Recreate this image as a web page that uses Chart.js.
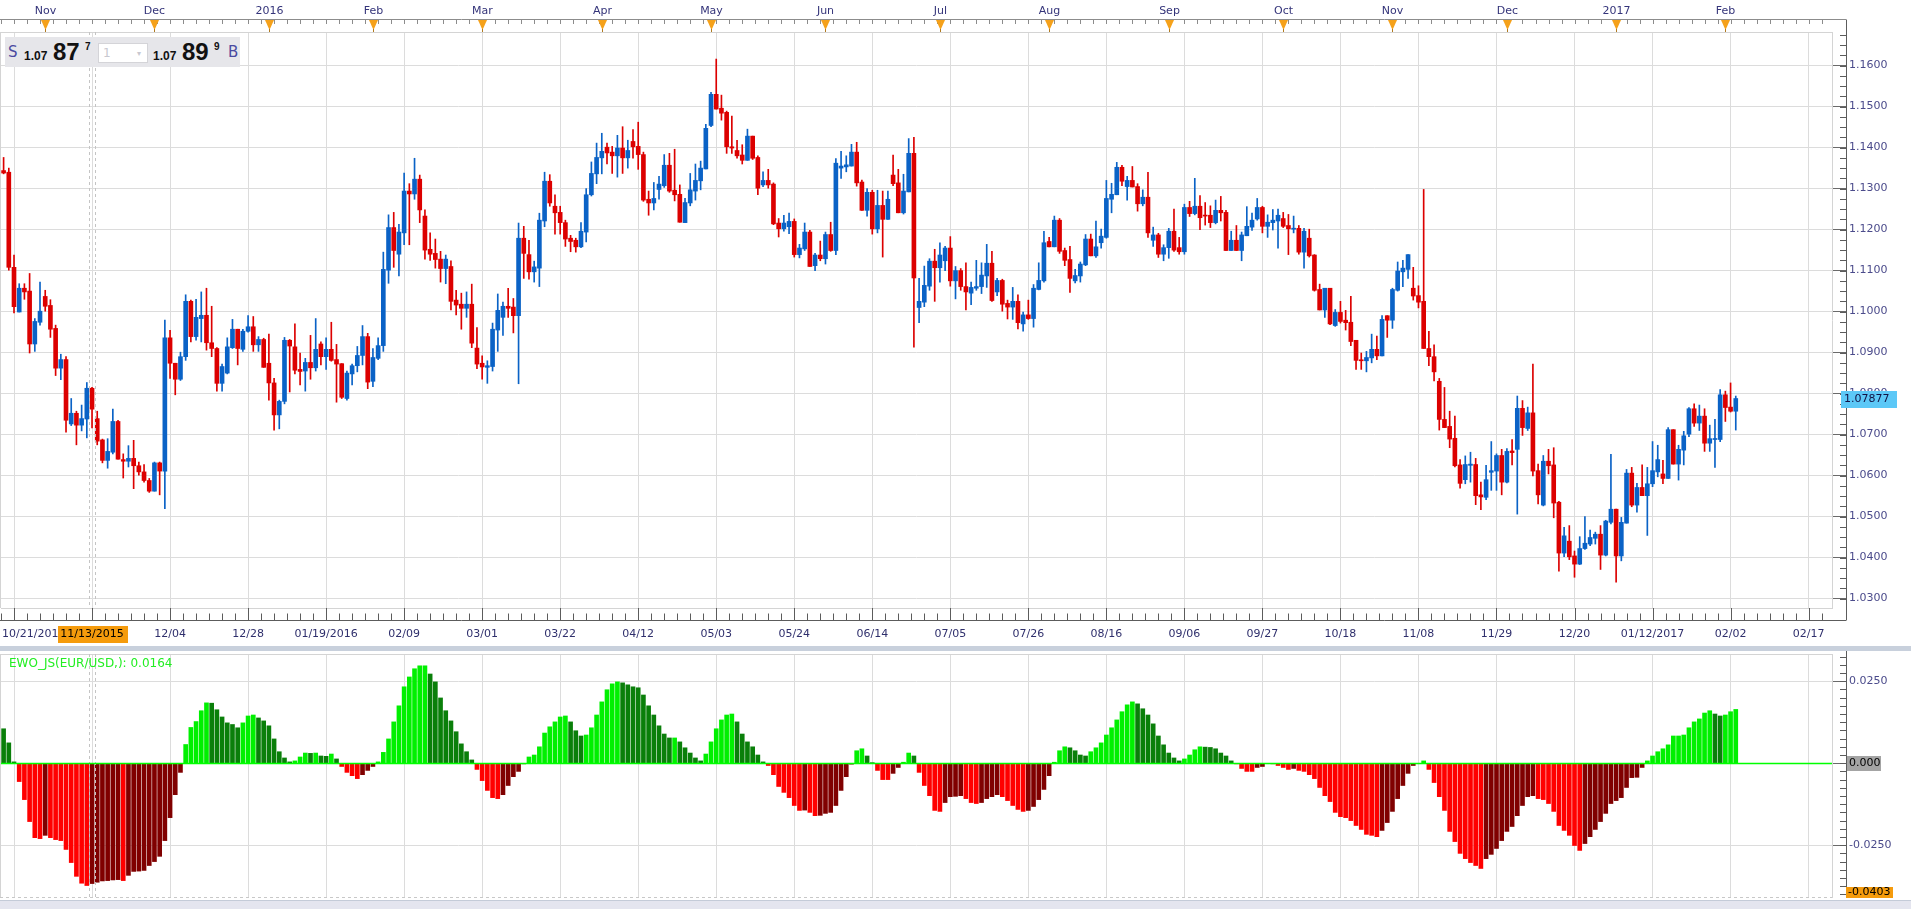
<!DOCTYPE html>
<html><head><meta charset="utf-8">
<script src="https://cdn.jsdelivr.net/npm/chart.js@4.4.0/dist/chart.umd.min.js"></script>
<style>
html,body{margin:0;padding:0;background:#fff;width:1911px;height:909px;overflow:hidden;font-family:"DejaVu Sans",sans-serif;}
#c1{position:absolute;left:0;top:0;}
#c2{position:absolute;left:0;top:651px;}
#sep{position:absolute;left:0;top:646px;width:1911px;height:5px;background:#c8d0dc;}
#bot{position:absolute;left:0;top:900px;width:1911px;height:9px;background:#e4e5ef;border-top:1px solid #c4cbd8;}
#sb{position:absolute;left:5px;top:37px;width:235px;height:30px;background:#e6e6ea;}
#sb span{position:absolute;line-height:1;white-space:nowrap;}
.lbl{font-family:"DejaVu Sans",sans-serif;font-size:15px;color:#4a4aa0;top:8px;}
.sm{font-family:"Liberation Sans",sans-serif;font-weight:bold;font-size:12px;color:#111;top:13px;}
.big{font-family:"Liberation Sans",sans-serif;font-weight:bold;font-size:24px;color:#111;top:3px;}
.sup{font-family:"Liberation Sans",sans-serif;font-weight:bold;font-size:10px;color:#111;top:4.5px;}
#inp{position:absolute;left:93px;top:6px;width:48px;height:18px;background:#fff;border:1px solid #d4d4d8;}
#inp span{font-family:"DejaVu Sans",sans-serif;font-size:12px;color:#c8c8d0;top:3px;}
</style></head><body>
<canvas id="c1" width="1911" height="646" style="width:1911px;height:646px"></canvas>
<div id="sep"></div>
<canvas id="c2" width="1911" height="258" style="width:1911px;height:258px"></canvas>
<div id="bot"></div>
<div id="sb">
  <span class="lbl" style="left:3px">S</span>
  <span class="sm" style="left:19px">1.07</span>
  <span class="big" style="left:48px">87</span>
  <span class="sup" style="left:80px">7</span>
  <div id="inp"><span style="left:4px">1</span><span style="left:38px;font-size:8px;top:6px">&#9662;</span></div>
  <span class="sm" style="left:148px">1.07</span>
  <span class="big" style="left:177px">89</span>
  <span class="sup" style="left:209px">9</span>
  <span class="lbl" style="left:223px">B</span>
</div>
<script>
// ---------------- DATA ----------------
const opens = [
1.1344,1.1340,1.1108,1.0999,1.1057,1.1050,1.0921,1.0974,1.1037,1.1015,
1.0959,1.0862,1.0883,1.0726,1.0752,1.0723,1.0738,1.0813,1.0739,1.0687,
1.0637,1.0657,1.0732,1.0639,1.0635,1.0642,1.0624,1.0609,1.0588,1.0562,
1.0631,1.0611,1.0936,1.0874,1.0835,1.0890,1.1025,1.0939,1.0983,1.0991,
1.0924,1.0910,1.0825,1.0850,1.0912,1.0957,1.0908,1.0952,1.0963,1.0919,
1.0932,1.0874,1.0826,1.0748,1.0781,1.0930,1.0914,1.0859,1.0855,1.0876,
1.0863,1.0921,1.0890,1.0908,1.0883,1.0873,1.0788,1.0848,1.0868,1.0893,
1.0939,1.0830,1.0886,1.0917,1.1101,1.1205,1.1140,1.1192,1.1294,1.1287,
1.1323,1.1233,1.1152,1.1142,1.1128,1.1105,1.1110,1.1028,1.1018,1.1008,
1.1018,1.0911,1.0874,1.0864,1.0866,1.0955,1.0986,1.1013,1.1011,1.0990,
1.1179,1.1139,1.1097,1.1106,1.1221,1.1318,1.1257,1.1242,1.1217,1.1179,
1.1174,1.1158,1.1194,1.1285,1.1336,1.1375,1.1401,1.1389,1.1380,1.1399,
1.1375,1.1415,1.1403,1.1383,1.1274,1.1265,1.1298,1.1307,1.1357,1.1296,
1.1286,1.1217,1.1265,1.1294,1.1319,1.1348,1.1454,1.1530,1.1496,1.1486,
1.1402,1.1393,1.1382,1.1369,1.1428,1.1376,1.1309,1.1320,1.1311,1.1216,
1.1202,1.1207,1.1220,1.1139,1.1153,1.1194,1.1112,1.1138,1.1129,1.1188,
1.1149,1.1350,1.1353,1.1355,1.1389,1.1316,1.1247,1.1291,1.1202,1.1259,
1.1225,1.1333,1.1314,1.1241,1.1292,1.1386,1.1010,1.1023,1.1062,1.1123,
1.1107,1.1124,1.1155,1.1075,1.1100,1.1061,1.1045,1.1057,1.1061,1.1087,
1.1118,1.1048,1.1076,1.1020,1.1011,1.1025,1.0970,1.0992,1.0983,1.1054,
1.1075,1.1171,1.1158,1.1223,1.1149,1.1127,1.1075,1.1087,1.1114,1.1177,
1.1136,1.1168,1.1181,1.1274,1.1285,1.1352,1.1305,1.1320,1.1305,1.1263,
1.1279,1.1174,1.1187,1.1140,1.1156,1.1196,1.1156,1.1146,1.1254,1.1239,
1.1257,1.1235,1.1235,1.1217,1.1247,1.1242,1.1149,1.1174,1.1149,1.1185,
1.1206,1.1226,1.1254,1.1208,1.1217,1.1221,1.1227,1.1210,1.1201,1.1203,
1.1145,1.1179,1.1138,1.1054,1.1004,1.1057,1.0966,1.0998,1.0979,1.0974,
1.0930,1.0882,1.0880,1.0887,1.0908,1.0892,1.0990,1.0979,1.1052,1.1097,
1.1103,1.1057,1.1039,1.1025,1.0910,1.0890,1.0830,1.0737,1.0720,1.0691,
1.0626,1.0590,1.0625,1.0627,1.0553,1.0547,1.0608,1.0611,1.0649,1.0584,
1.0660,1.0664,1.0764,1.0715,1.0753,1.0612,1.0528,1.0635,1.0626,1.0535,
1.0411,1.0440,1.0404,1.0384,1.0422,1.0433,1.0447,1.0457,1.0406,1.0486,
1.0518,1.0404,1.0484,1.0606,1.0528,1.0571,1.0551,1.0580,1.0609,1.0604,
1.0593,1.0712,1.0628,1.0662,1.0701,1.0763,1.0728,1.0745,1.0679,1.0688,
1.0688,1.0797,1.0767,1.0757];
const highs = [
1.1376,1.1350,1.1138,1.1068,1.1068,1.1093,1.0983,1.1072,1.1052,1.1029,
1.0967,1.0896,1.0890,1.0788,1.0757,1.0772,1.0827,1.0815,1.0757,1.0689,
1.0690,1.0762,1.0735,1.0653,1.0673,1.0686,1.0633,1.0627,1.0593,1.0633,
1.0633,1.0979,1.0954,1.0874,1.0901,1.1041,1.1028,1.1030,1.1048,1.1057,
1.1013,1.0912,1.0872,1.0936,1.0981,1.0957,1.0957,1.0990,1.0988,1.0939,
1.0935,1.0945,1.0837,1.0784,1.0937,1.0932,1.0970,1.0899,1.0886,1.0942,
1.0983,1.0926,1.0936,1.0974,1.0920,1.0873,1.0855,1.0872,1.0915,1.0966,
1.0947,1.0910,1.0936,1.1145,1.1236,1.1242,1.1213,1.1338,1.1312,1.1374,
1.1333,1.1248,1.1192,1.1177,1.1147,1.1138,1.1124,1.1052,1.1045,1.1048,
1.1067,1.0961,1.0892,1.0880,1.0972,1.1043,1.1023,1.1057,1.1032,1.1216,
1.1208,1.1174,1.1123,1.1240,1.1340,1.1334,1.1285,1.1257,1.1223,1.1186,
1.1179,1.1217,1.1300,1.1365,1.1411,1.1435,1.1411,1.1403,1.1430,1.1451,
1.1418,1.1444,1.1462,1.1389,1.1294,1.1315,1.1330,1.1383,1.1386,1.1396,
1.1309,1.1276,1.1337,1.1360,1.1367,1.1457,1.1535,1.1616,1.1528,1.1489,
1.1477,1.1418,1.1407,1.1445,1.1428,1.1380,1.1341,1.1347,1.1314,1.1227,
1.1235,1.1240,1.1226,1.1164,1.1216,1.1198,1.1142,1.1172,1.1194,1.1218,
1.1373,1.1391,1.1380,1.1408,1.1413,1.1321,1.1300,1.1296,1.1296,1.1294,
1.1294,1.1382,1.1347,1.1335,1.1422,1.1425,1.1081,1.1111,1.1129,1.1152,
1.1168,1.1159,1.1183,1.1110,1.1105,1.1119,1.1072,1.1125,1.1119,1.1164,
1.1147,1.1081,1.1079,1.1028,1.1059,1.1041,1.0999,1.1028,1.1066,1.1119,
1.1196,1.1181,1.1233,1.1227,1.1155,1.1159,1.1103,1.1121,1.1188,1.1189,
1.1221,1.1201,1.1320,1.1313,1.1364,1.1357,1.1330,1.1354,1.1312,1.1297,
1.1340,1.1206,1.1191,1.1163,1.1203,1.1250,1.1181,1.1262,1.1269,1.1325,
1.1283,1.1266,1.1258,1.1272,1.1281,1.1247,1.1196,1.1210,1.1194,1.1256,
1.1240,1.1276,1.1257,1.1236,1.1249,1.1250,1.1242,1.1237,1.1233,1.1210,
1.1203,1.1201,1.1139,1.1067,1.1057,1.1057,1.1005,1.1025,1.1003,1.1037,
1.0930,1.0899,1.0903,1.0945,1.0940,1.0990,1.0990,1.1057,1.1121,1.1125,
1.1139,1.1108,1.1063,1.1298,1.0952,1.0919,1.0837,1.0815,1.0757,1.0745,
1.0639,1.0648,1.0657,1.0642,1.0584,1.0625,1.0683,1.0653,1.0664,1.0666,
1.0688,1.0794,1.0783,1.0767,1.0872,1.0628,1.0649,1.0664,1.0668,1.0537,
1.0474,1.0478,1.0416,1.0451,1.0500,1.0467,1.0462,1.0478,1.0491,1.0652,
1.0518,1.0498,1.0615,1.0620,1.0581,1.0626,1.0620,1.0683,1.0674,1.0637,
1.0717,1.0712,1.0674,1.0708,1.0766,1.0775,1.0772,1.0763,1.0723,1.0737,
1.0810,1.0806,1.0826,1.0794];
const lows = [
1.1336,1.1101,1.0997,1.0999,1.1030,1.0899,1.0903,1.0967,1.1001,1.0937,
1.0844,1.0834,1.0706,1.0722,1.0675,1.0709,1.0692,1.0716,1.0675,1.0631,
1.0618,1.0653,1.0640,1.0594,1.0621,1.0568,1.0601,1.0584,1.0559,1.0562,
1.0553,1.0519,1.0837,1.0797,1.0832,1.0881,1.0926,1.0930,1.0926,1.0906,
1.0890,1.0806,1.0806,1.0848,1.0910,1.0870,1.0903,1.0950,1.0903,1.0903,
1.0864,1.0784,1.0711,1.0714,1.0775,1.0804,1.0848,1.0821,1.0806,1.0835,
1.0855,1.0870,1.0859,1.0879,1.0779,1.0788,1.0784,1.0821,1.0853,1.0870,
1.0812,1.0817,1.0883,1.0903,1.1069,1.1108,1.1087,1.1163,1.1163,1.1274,
1.1217,1.1128,1.1125,1.1106,1.1072,1.1068,1.1004,1.0992,1.0957,1.0986,
1.0912,1.0861,1.0835,1.0825,1.0855,1.0903,1.0942,1.0986,1.0948,1.0824,
1.1081,1.1079,1.1072,1.1061,1.1207,1.1257,1.1189,1.1189,1.1159,1.1146,
1.1145,1.1156,1.1170,1.1282,1.1312,1.1336,1.1360,1.1337,1.1328,1.1337,
1.1350,1.1374,1.1347,1.1269,1.1235,1.1248,1.1274,1.1303,1.1291,1.1270,
1.1218,1.1217,1.1258,1.1272,1.1297,1.1348,1.1451,1.1494,1.1467,1.1386,
1.1386,1.1374,1.1360,1.1369,1.1371,1.1285,1.1305,1.1301,1.1212,1.1182,
1.1196,1.1190,1.1133,1.1131,1.1149,1.1110,1.1100,1.1124,1.1116,1.1147,
1.1139,1.1325,1.1341,1.1355,1.1306,1.1247,1.1233,1.1189,1.1192,1.1133,
1.1225,1.1307,1.1241,1.1238,1.1292,1.0913,1.0973,1.1012,1.1052,1.1025,
1.1072,1.1100,1.1062,1.1031,1.1052,1.1004,1.1017,1.1052,1.1044,1.1059,
1.1025,1.1039,1.1001,1.0982,1.0981,1.0958,1.0952,1.0981,1.0962,1.1053,
1.1072,1.1158,1.1158,1.1142,1.1112,1.1047,1.1070,1.1072,1.1112,1.1136,
1.1132,1.1155,1.1179,1.1241,1.1285,1.1307,1.1272,1.1304,1.1245,1.1258,
1.1181,1.1159,1.1132,1.1124,1.1130,1.1147,1.1140,1.1140,1.1232,1.1236,
1.1200,1.1211,1.1205,1.1214,1.1221,1.1149,1.1149,1.1149,1.1124,1.1185,
1.1198,1.1223,1.1192,1.1181,1.1199,1.1155,1.1205,1.1139,1.1192,1.1140,
1.1106,1.1133,1.1050,1.1004,1.0986,1.0968,1.0964,1.0972,1.0955,1.0917,
1.0859,1.0859,1.0853,1.0875,1.0883,1.0892,1.0937,1.0959,1.1050,1.1061,
1.1081,1.1028,1.1009,1.0910,1.0868,1.0831,1.0711,1.0717,1.0668,1.0621,
1.0569,1.0580,1.0584,1.0529,1.0517,1.0541,1.0564,1.0564,1.0553,1.0582,
1.0626,1.0506,1.0698,1.0710,1.0599,1.0531,1.0526,1.0604,1.0497,1.0367,
1.0402,1.0395,1.0352,1.0383,1.0420,1.0429,1.0433,1.0371,1.0404,1.0482,
1.0340,1.0392,1.0484,1.0524,1.0511,1.0551,1.0454,1.0573,1.0597,1.0580,
1.0593,1.0628,1.0589,1.0626,1.0695,1.0720,1.0710,1.0659,1.0659,1.0620,
1.0683,1.0732,1.0755,1.0711];
const closes = [
1.1338,1.1108,1.1012,1.1057,1.1048,1.0921,1.0976,1.1001,1.1013,1.0957,
1.0862,1.0883,1.0735,1.0752,1.0723,1.0739,1.0813,1.0762,1.0684,1.0637,
1.0659,1.0732,1.0640,1.0635,1.0642,1.0624,1.0609,1.0588,1.0562,1.0631,
1.0611,1.0936,1.0874,1.0835,1.0890,1.1025,1.0939,1.0986,1.0991,1.0924,
1.0910,1.0825,1.0866,1.0914,1.0957,1.0910,1.0952,1.0963,1.0919,1.0932,
1.0864,1.0826,1.0748,1.0781,1.0930,1.0916,1.0857,1.0854,1.0876,1.0863,
1.0908,1.0890,1.0908,1.0881,1.0872,1.0791,1.0850,1.0868,1.0893,1.0939,
1.0828,1.0888,1.0917,1.1103,1.1205,1.1149,1.1194,1.1294,1.1287,1.1323,
1.1248,1.1150,1.1140,1.1127,1.1105,1.1128,1.1025,1.1016,1.1008,1.1018,
1.0923,1.0872,1.0865,1.0868,1.0957,1.1003,1.1013,1.1008,1.0990,1.1179,
1.1142,1.1097,1.1109,1.1223,1.1318,1.1265,1.1241,1.1217,1.1177,1.1171,
1.1158,1.1196,1.1285,1.1337,1.1376,1.1391,1.1387,1.1380,1.1399,1.1375,
1.1393,1.1402,1.1383,1.1272,1.1265,1.1276,1.1311,1.1357,1.1294,1.1285,
1.1218,1.1266,1.1297,1.1320,1.1350,1.1447,1.1530,1.1494,1.1484,1.1402,
1.1399,1.1380,1.1369,1.1428,1.1374,1.1301,1.1320,1.1309,1.1214,1.1202,
1.1216,1.1220,1.1139,1.1155,1.1194,1.1110,1.1138,1.1129,1.1188,1.1149,
1.1362,1.1355,1.1358,1.1389,1.1314,1.1247,1.1291,1.1202,1.1259,1.1225,
1.1274,1.1312,1.1241,1.1294,1.1386,1.1082,1.1025,1.1064,1.1123,1.1107,
1.1138,1.1155,1.1075,1.1100,1.1061,1.1048,1.1059,1.1061,1.1089,1.1118,
1.1027,1.1076,1.1018,1.1011,1.1025,1.0973,1.0992,1.0983,1.1057,1.1076,
1.1168,1.1158,1.1223,1.1147,1.1125,1.1081,1.1088,1.1116,1.1177,1.1136,
1.1158,1.1184,1.1276,1.1286,1.1352,1.1318,1.1320,1.1304,1.1263,1.1279,
1.1192,1.1187,1.1140,1.1156,1.1196,1.1150,1.1146,1.1254,1.1239,1.1257,
1.1229,1.1233,1.1217,1.1247,1.1241,1.1149,1.1174,1.1149,1.1187,1.1208,
1.1223,1.1254,1.1208,1.1218,1.1223,1.1235,1.1208,1.1202,1.1203,1.1145,
1.1196,1.1136,1.1052,1.1004,1.1057,1.0970,1.0998,1.0976,1.0973,1.0927,
1.0881,1.0880,1.0888,1.0908,1.0892,1.0981,1.0979,1.1054,1.1099,1.1106,
1.1139,1.1038,1.1023,1.0910,1.0890,1.0853,1.0737,1.0717,1.0689,1.0624,
1.0581,1.0627,1.0628,1.0551,1.0548,1.0590,1.0612,1.0649,1.0584,1.0659,
1.0656,1.0764,1.0717,1.0753,1.0611,1.0553,1.0635,1.0624,1.0533,1.0411,
1.0453,1.0402,1.0384,1.0422,1.0435,1.0449,1.0457,1.0406,1.0489,1.0518,
1.0404,1.0486,1.0606,1.0528,1.0571,1.0551,1.0580,1.0612,1.0639,1.0593,
1.0712,1.0628,1.0664,1.0697,1.0763,1.0728,1.0745,1.0679,1.0690,1.0690,
1.0797,1.0766,1.0757,1.0788];
const ewo = [
0.0105,0.0062,0.0004,-0.0056,-0.0111,-0.0178,-0.0227,-0.0230,-0.0220,-0.0227,
-0.0233,-0.0236,-0.0263,-0.0303,-0.0345,-0.0366,-0.0373,-0.0367,-0.0363,-0.0359,
-0.0358,-0.0356,-0.0355,-0.0358,-0.0342,-0.0330,-0.0329,-0.0327,-0.0312,-0.0300,
-0.0284,-0.0236,-0.0166,-0.0096,-0.0028,0.0057,0.0109,0.0127,0.0160,0.0184,
0.0183,0.0163,0.0141,0.0123,0.0118,0.0108,0.0123,0.0144,0.0147,0.0138,
0.0129,0.0114,0.0074,0.0035,0.0016,0.0004,0.0007,0.0019,0.0031,0.0030,
0.0031,0.0022,0.0021,0.0028,0.0013,-0.0010,-0.0028,-0.0038,-0.0047,-0.0035,
-0.0022,-0.0010,0.0004,0.0033,0.0074,0.0126,0.0175,0.0233,0.0263,0.0288,
0.0297,0.0297,0.0272,0.0248,0.0199,0.0160,0.0129,0.0096,0.0059,0.0035,
0.0010,-0.0019,-0.0053,-0.0083,-0.0105,-0.0108,-0.0096,-0.0068,-0.0041,-0.0025,
-0.0002,0.0019,0.0025,0.0050,0.0092,0.0111,0.0126,0.0141,0.0144,0.0126,
0.0099,0.0083,0.0086,0.0108,0.0147,0.0187,0.0224,0.0242,0.0248,0.0245,
0.0239,0.0233,0.0230,0.0208,0.0175,0.0147,0.0114,0.0089,0.0077,0.0077,
0.0065,0.0047,0.0031,0.0016,0.0007,0.0028,0.0065,0.0105,0.0132,0.0147,
0.0150,0.0126,0.0089,0.0065,0.0050,0.0025,0.0004,-0.0007,-0.0035,-0.0071,
-0.0089,-0.0105,-0.0129,-0.0144,-0.0143,-0.0150,-0.0160,-0.0159,-0.0153,-0.0150,
-0.0129,-0.0083,-0.0041,-0.0003,0.0038,0.0044,0.0022,0.0001,-0.0022,-0.0050,
-0.0050,-0.0031,-0.0013,0.0003,0.0031,0.0022,-0.0028,-0.0068,-0.0099,-0.0144,
-0.0147,-0.0120,-0.0102,-0.0101,-0.0099,-0.0108,-0.0120,-0.0123,-0.0120,-0.0108,
-0.0102,-0.0096,-0.0102,-0.0114,-0.0129,-0.0141,-0.0147,-0.0144,-0.0132,-0.0111,
-0.0080,-0.0038,0.0003,0.0038,0.0050,0.0047,0.0038,0.0025,0.0022,0.0035,
0.0047,0.0062,0.0086,0.0108,0.0132,0.0157,0.0178,0.0187,0.0181,0.0166,
0.0147,0.0120,0.0083,0.0056,0.0031,0.0016,0.0007,0.0013,0.0025,0.0041,
0.0050,0.0049,0.0048,0.0044,0.0031,0.0022,0.0007,-0.0002,-0.0016,-0.0025,
-0.0025,-0.0013,-0.0010,-0.0001,-0.0002,-0.0007,-0.0013,-0.0019,-0.0016,-0.0022,
-0.0025,-0.0035,-0.0047,-0.0074,-0.0099,-0.0117,-0.0150,-0.0163,-0.0166,-0.0175,
-0.0190,-0.0202,-0.0217,-0.0220,-0.0224,-0.0205,-0.0181,-0.0147,-0.0108,-0.0068,
-0.0031,-0.0007,-0.0001,0.0007,-0.0019,-0.0059,-0.0102,-0.0144,-0.0208,-0.0239,
-0.0275,-0.0291,-0.0303,-0.0312,-0.0321,-0.0291,-0.0278,-0.0260,-0.0236,-0.0208,
-0.0193,-0.0160,-0.0129,-0.0102,-0.0099,-0.0108,-0.0111,-0.0123,-0.0147,-0.0190,
-0.0205,-0.0220,-0.0251,-0.0266,-0.0245,-0.0224,-0.0202,-0.0178,-0.0153,-0.0123,
-0.0114,-0.0105,-0.0074,-0.0044,-0.0043,-0.0013,0.0007,0.0022,0.0035,0.0044,
0.0056,0.0083,0.0083,0.0086,0.0108,0.0126,0.0135,0.0153,0.0160,0.0150,
0.0144,0.0147,0.0157,0.0164];

// tick labels
const dateTicks = ['10/21/2015','11/13/2015','12/04','12/28','01/19/2016','02/09','03/01','03/22','04/12','05/03','05/24','06/14','07/05','07/26','08/16','09/06','09/27','10/18','11/08','11/29','12/20','01/12/2017','02/02','02/17'];
const priceTicks = [1.03,1.04,1.05,1.06,1.07,1.08,1.09,1.10,1.11,1.12,1.13,1.14,1.15,1.16];
const ewoTicks = [-0.025,0,0.025];
const monthNames = ['2016','Feb','Mar','Apr','May','Jun','Jul','Aug','Sep','Oct','Nov','Dec'];
const lastPrice = 1.07877;
const ewoAxisMinLabel = '-0.0403';
const ewoName = 'EWO_JS(EUR/USD,): ';

// categories: trading days (weekdays minus closed days)
const startDay = [2015, 9, 21];
const closedDays = ['2015-12-25','2016-01-01','2016-12-26','2017-01-02'];
const slotCount = 352;
const dates = (function(){
  const out = []; const d = new Date(Date.UTC(startDay[0], startDay[1], startDay[2]));
  while (out.length < slotCount) {
    const wd = d.getUTCDay(); const iso = d.toISOString().slice(0,10);
    if (wd !== 0 && wd !== 6 && closedDays.indexOf(iso) < 0) out.push(iso);
    d.setUTCDate(d.getUTCDate() + 1);
  }
  return out;
})();
const TICK_START = 2, TICK_STEP = 15, CROSS_IDX = 17;

// ---------------- STYLE ----------------
const BLUE = '#0a62c6', RED = '#dc0000';
const G_LIGHT = '#00f000', G_DARK = '#0a7f0a', R_LIGHT = '#ff0000', R_DARK = '#800000';
const GRID = '#dcdcdc', DATE_COL = '#2f2f6c', PRICE_COL = '#4b4b8b', AXIS_COL = '#6a6a6a';
const FONT = '11px "DejaVu Sans"';
Chart.defaults.font.family = '"DejaVu Sans", sans-serif';
Chart.defaults.font.size = 11;

const bottomLabel = {};
dateTicks.forEach((t, k) => { if (k > 0) bottomLabel[TICK_START + TICK_STEP * k] = t; });
const isMajor = (i) => i >= TICK_START && (i - TICK_START) % TICK_STEP === 0;
const monthStarts = [];
for (let i = 1; i < opens.length; i++) {
  if (dates[i].slice(5,7) !== dates[i-1].slice(5,7)) {
    const m = parseInt(dates[i].slice(5,7), 10);
    monthStarts.push({ idx: i, text: m === 1 ? dates[i].slice(0,4) : monthNames[m - 1] });
  }
}

const bodies = opens.map((o, i) => [o, closes[i]]);
const wicks = lows.map((l, i) => [l, highs[i]]);
const candleColor = (ctx) => closes[ctx.dataIndex] >= opens[ctx.dataIndex] ? BLUE : RED;
const ewoColor = (ctx) => {
  const i = ctx.dataIndex, v = ewo[i], p = i > 0 ? ewo[i-1] : v + 1;
  if (v >= 0) return v >= p ? G_LIGHT : G_DARK;
  return v <= p ? R_LIGHT : R_DARK;
};
const noPad = (s) => { s.paddingLeft = 0; s.paddingRight = 0; s.paddingTop = 0; s.paddingBottom = 0; };

function line(ctx, x1, y1, x2, y2) { ctx.beginPath(); ctx.moveTo(x1, y1); ctx.lineTo(x2, y2); ctx.stroke(); }
function crosshair(chart) {
  const ctx = chart.ctx, ca = chart.chartArea, x = Math.round(chart.scales.x.getPixelForValue(CROSS_IDX));
  ctx.save(); ctx.strokeStyle = '#c4c4c4'; ctx.lineWidth = 1; ctx.setLineDash([3, 3]);
  line(ctx, x - 2.5, ca.top, x - 2.5, ca.bottom); line(ctx, x + 3.5, ca.top, x + 3.5, ca.bottom);
  ctx.restore();
}

const decor1 = {
  id: 'decor1',
  beforeDraw(chart) {
    const ctx = chart.ctx, xs = chart.scales.x;
    ctx.save();
    ctx.font = FONT; ctx.fillStyle = DATE_COL; ctx.textBaseline = 'middle'; ctx.textAlign = 'left';
    ctx.fillText(dateTicks[0], 2, 634);
    const hx = xs.getPixelForValue(CROSS_IDX);
    ctx.fillStyle = '#f59b0c'; ctx.fillRect(Math.round(hx - 34), 626, 70, 17);
    ctx.restore();
  },
  afterDraw(chart) {
    const ctx = chart.ctx, ca = chart.chartArea, xs = chart.scales.x, ys = chart.scales.y;
    const w = xs.getPixelForValue(1) - xs.getPixelForValue(0);
    ctx.save();
    ctx.lineWidth = 1;
    ctx.strokeStyle = '#d4d4d4';
    line(ctx, 0, ca.top + 0.5, ca.right, ca.top + 0.5);
    line(ctx, ca.left - 0.5, ca.top, ca.left - 0.5, ca.bottom);
    crosshair(chart);
    // top axis
    ctx.strokeStyle = '#8c8c8c';
    line(ctx, 0, 19.5, 1846, 19.5);
    for (let i = TICK_START - TICK_STEP; i < slotCount + TICK_STEP; i += TICK_STEP) {
      for (let k = 0; k < 6; k++) {
        const x = Math.round(xs.getPixelForValue(i) + k * w * TICK_STEP / 6) + 0.5;
        if (x < 0 || x > ca.right) continue;
        line(ctx, x, 19.5, x, 24);
      }
    }
    ctx.font = FONT; ctx.textAlign = 'center'; ctx.textBaseline = 'alphabetic';
    monthStarts.forEach(m => {
      const x = Math.round(xs.getPixelForValue(m.idx)) + 0.5;
      ctx.fillStyle = '#f5a11a';
      ctx.beginPath(); ctx.moveTo(x - 4.5, 20); ctx.lineTo(x + 4.5, 20); ctx.lineTo(x, 30); ctx.closePath(); ctx.fill();
      ctx.strokeStyle = '#b07a20'; line(ctx, x, 29, x, 32);
      ctx.fillStyle = '#34347a'; ctx.fillText(m.text, x, 13.5);
    });
    // bottom axis
    ctx.strokeStyle = '#5c5c5c';
    line(ctx, 0, 620.5, 1846, 620.5);
    for (let i = TICK_START - TICK_STEP; i < slotCount + TICK_STEP; i += TICK_STEP) {
      for (let k = 0; k < 6; k++) {
        const x = Math.round(xs.getPixelForValue(i) + k * w * TICK_STEP / 6) + 0.5;
        if (x < 0 || x > ca.right) continue;
        line(ctx, x, k === 0 ? ca.bottom : 613.5, x, 620.5);
      }
    }
    // right axis line + minor ticks
    line(ctx, 1846.5, 19.5, 1846.5, 620.5);
    for (let v = 1.0275; v < ys.max; v += 0.0025) {
      const y = Math.round(ys.getPixelForValue(v)) + 0.5;
      if (y < ca.top || y > ca.bottom) continue;
      line(ctx, 1840, y, 1846, y);
    }
    // last price marker
    const py = Math.round(ys.getPixelForValue(lastPrice));
    ctx.fillStyle = '#5cc8f7'; ctx.fillRect(1841, py - 8, 56, 17);
    ctx.fillStyle = '#111144'; ctx.textAlign = 'left'; ctx.textBaseline = 'middle'; ctx.font = FONT;
    ctx.fillText(lastPrice.toFixed(5), 1844, py + 0.5);
    ctx.restore();
  }
};

const decor2 = {
  id: 'decor2',
  afterDraw(chart) {
    const ctx = chart.ctx, ca = chart.chartArea, ys = chart.scales.y;
    ctx.save(); ctx.lineWidth = 1;
    ctx.strokeStyle = '#d4d4d4';
    line(ctx, 0, ca.top + 0.5, ca.right, ca.top + 0.5);
    line(ctx, ca.left - 0.5, ca.top, ca.left - 0.5, ca.bottom);
    ctx.save(); ctx.setLineDash([3, 3]); ctx.strokeStyle = '#c8c8c8';
    line(ctx, 0, ca.bottom + 0.5, ca.right, ca.bottom + 0.5); ctx.restore();
    crosshair(chart);
    const y0 = Math.round(ys.getPixelForValue(0)) + 0.5;
    ctx.strokeStyle = '#00ff00'; ctx.lineWidth = 1.5;
    line(ctx, ca.left, y0, ca.right, y0);
    ctx.lineWidth = 1; ctx.strokeStyle = '#5c5c5c';
    line(ctx, 1846.5, 0, 1846.5, ca.bottom);
    for (let v = -0.04; v < ys.max; v += 0.0025) {
      const y = Math.round(ys.getPixelForValue(v)) + 0.5;
      if (y < ca.top || y > ca.bottom) continue;
      line(ctx, 1840, y, 1846, y);
    }
    ctx.font = FONT; ctx.textBaseline = 'middle'; ctx.textAlign = 'left';
    ctx.fillStyle = '#a4a4a4'; ctx.fillRect(1847, y0 - 7.5, 34, 15);
    ctx.fillStyle = '#000'; ctx.fillText((0).toFixed(3), 1849, y0);
    ctx.fillStyle = '#f59b0c'; ctx.fillRect(1846, ca.bottom - 10, 47, 11);
    ctx.fillStyle = '#000'; ctx.fillText(ewoAxisMinLabel, 1848, ca.bottom - 4.5);
    ctx.fillStyle = '#22ee22'; ctx.textBaseline = 'alphabetic'; ctx.font = '12px "DejaVu Sans"';
    ctx.fillText(ewoName + ewo[ewo.length - 1].toFixed(4), 9, 16);
    ctx.restore();
  }
};

const xBase = (h, showLabels) => ({
  type: 'category', offset: true,
  grid: { offset: false, drawTicks: false, color: (c) => isMajor(c.index) ? GRID : 'rgba(0,0,0,0)' },
  border: { color: '#d4d4d4' },
  ticks: {
    display: showLabels, autoSkip: false, maxRotation: 0, minRotation: 0, padding: 20,
    font: { size: 11 }, color: (c) => c.index === CROSS_IDX ? '#000' : DATE_COL,
    callback: (v, i) => bottomLabel[i] || ''
  },
  afterFit: (s) => { s.height = h; noPad(s); }
});

new Chart(document.getElementById('c1'), {
  type: 'bar',
  data: { labels: dates, datasets: [
    { data: bodies, backgroundColor: candleColor, barThickness: 4, minBarLength: 1, grouped: false, borderWidth: 0 },
    { data: wicks, backgroundColor: candleColor, barThickness: 1, minBarLength: 1, grouped: false, borderWidth: 0 }
  ]},
  options: {
    responsive: false, animation: false, events: [],
    layout: { padding: { left: 1, top: 32, right: 0, bottom: 0 } },
    plugins: { legend: { display: false }, tooltip: { enabled: false } },
    scales: {
      x: xBase(38, true),
      y: {
        position: 'right', min: 1.0277, max: 1.1682,
        afterBuildTicks: (s) => { s.ticks = priceTicks.map(v => ({ value: v })); },
        grid: { color: GRID, drawTicks: true, tickLength: 14, tickColor: AXIS_COL },
        border: { color: '#d4d4d4' },
        ticks: { padding: 3, color: PRICE_COL, font: { size: 11 }, callback: (v) => Number(v).toFixed(4) },
        afterFit: (s) => { s.width = 79; noPad(s); }
      }
    }
  },
  plugins: [decor1]
});

const x2 = xBase(12, false); x2.border = { display: false };
new Chart(document.getElementById('c2'), {
  type: 'bar',
  data: { labels: dates, datasets: [
    { data: ewo, backgroundColor: ewoColor, barThickness: 4, borderWidth: 0 }
  ]},
  options: {
    responsive: false, animation: false, events: [],
    layout: { padding: { left: 1, top: 3, right: 0, bottom: 0 } },
    plugins: { legend: { display: false }, tooltip: { enabled: false } },
    scales: {
      x: x2,
      y: {
        position: 'right', min: -0.0408, max: 0.0333,
        afterBuildTicks: (s) => { s.ticks = ewoTicks.map(v => ({ value: v })); },
        grid: { color: (c) => c.tick && c.tick.value === 0 ? 'rgba(0,0,0,0)' : GRID, drawTicks: true, tickLength: 14, tickColor: AXIS_COL },
        border: { color: '#d4d4d4' },
        ticks: { padding: 3, color: PRICE_COL, font: { size: 11 }, callback: (v) => v === 0 ? '' : Number(v).toFixed(4) },
        afterFit: (s) => { s.width = 79; noPad(s); }
      }
    }
  },
  plugins: [decor2]
});
</script>
</body></html>
